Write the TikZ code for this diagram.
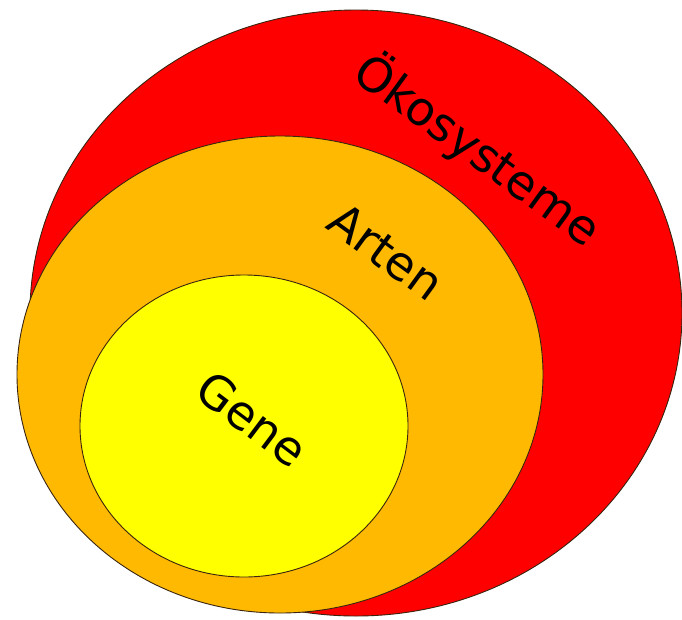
\documentclass[tikz,border=0pt]{standalone}
\usepackage{fontspec}
\setmainfont{DejaVu Sans}
\usetikzlibrary{shapes.geometric}
\definecolor{ringred}{HTML}{FF0000}
\definecolor{ringorange}{HTML}{FFB900}
\definecolor{ringyellow}{HTML}{FFFF00}
\definecolor{ringline}{HTML}{3A2410}
\tikzset{
  ring/.style={ellipse, draw=ringline, line width=0.9pt, inner sep=0pt},
  ringlabel/.style={font=\fontsize{47}{50}\selectfont, text=black, inner sep=0pt}
}
\begin{document}
\begin{tikzpicture}[x=1pt, y=-1pt]
\useasboundingbox (0,0) rectangle (682,619);
\node[ring, fill=ringred, minimum width=652pt, minimum height=606pt] (oeko) at (356,313) {};
\node[ring, fill=ringorange, minimum width=526pt, minimum height=477pt] (arten) at (280,374.5) {};
\node[ring, fill=ringyellow, minimum width=328pt, minimum height=302pt] (gene) at (244,426) {};
\node[ringlabel, rotate=-36] (toeko) at (478,150) {Ökosysteme};
\node[ringlabel, rotate=-36] (tarten) at (386,252) {Arten};
\node[ringlabel, rotate=-37] (tgene) at (252,419) {Gene};
\end{tikzpicture}
\end{document}
